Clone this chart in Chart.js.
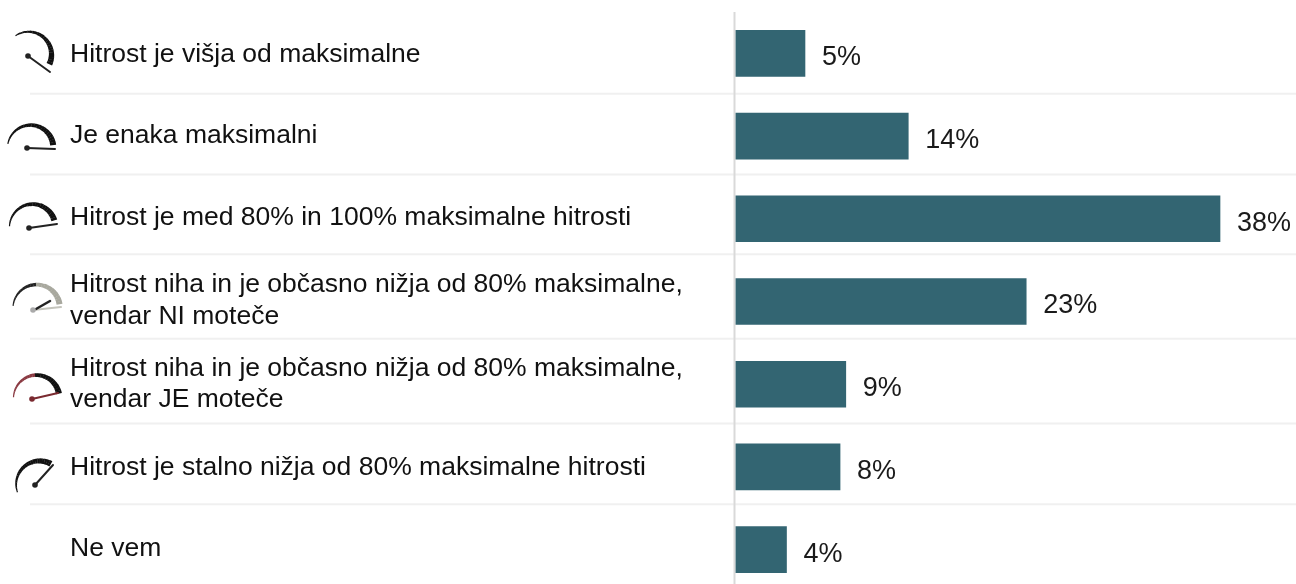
<!DOCTYPE html>
<html><head><meta charset="utf-8">
<style>html,body{margin:0;padding:0;background:#fff;overflow:hidden;width:1296px;height:584px}#w{position:relative;width:1296px;height:591px}</style>
<script src="https://cdn.jsdelivr.net/npm/chart.js@4/dist/chart.umd.min.js"></script>
</head><body><div id="w"><canvas id="c" width="1296" height="591"></canvas></div>
<script>
const categories = [
  "Hitrost je višja od maksimalne",
  "Je enaka maksimalni",
  "Hitrost je med 80% in 100% maksimalne hitrosti",
  ["Hitrost niha in je občasno nižja od 80% maksimalne,", "vendar NI moteče"],
  ["Hitrost niha in je občasno nižja od 80% maksimalne,", "vendar JE moteče"],
  "Hitrost je stalno nižja od 80% maksimalne hitrosti",
  "Ne vem"
];
const barValues = [5.45, 13.55, 38, 22.8, 8.65, 8.2, 4];
const valueLabels = ["5%", "14%", "38%", "23%", "9%", "8%", "4%"];

const labelNudge = [1, 0, -1, -1, 0, 1, -1];
const valueNudge = [4, 4, 5, 4, 4, 5, 5];
const sepNudge = [-1, -3, -6, -4, -2, -4];
const icons = [
  {cx:29,cy:55,r:23.5,a0:-125,a1:24,nx:50,ny:72,dx:28,dy:56,arc:'#111',ndl:'#222'},
  {cx:31,cy:148,r:23.5,a0:-170,a1:-8,nx:55,ny:149,dx:27,dy:148,arc:'#111',ndl:'#222'},
  {cx:33,cy:227,r:23.5,a0:-178,a1:-18,nx:57,ny:224,dx:29,dy:228,arc:'#111',ndl:'#222'},
  {cx:37,cy:308,r:24,a0:-175,a1:-10,nx:61,ny:307,dx:33,dy:310,arc:'#a8a89e',ndl:'#c4c4bc',edge:'#222',n2x:50,n2y:301},
  {cx:37,cy:398,r:23.5,a0:-178,a1:-12,nx:58,ny:393,dx:32,dy:399,arc:'#111',ndl:'#7a2a30',edge:'#8a3a42'},
  {cx:40,cy:484,r:24,a0:-200,a1:-62,nx:53,ny:465,dx:35,dy:485,arc:'#111',ndl:'#222'}
];

const decor = {
  id: 'decor',
  beforeDraw(chart) {
    const y = chart.scales.y;
    if (!chart.$nudged) {
      y.getLabelItems(chart.chartArea).forEach((it, i) => { it.options.translation[1] += labelNudge[i]; });
      chart.$nudged = true;
    }
  },
  beforeDatasetsDraw(chart) {
    const c = chart.ctx, y = chart.scales.y, x = chart.scales.x;
    c.save();
    c.strokeStyle = '#f0f0f0'; c.lineWidth = 2;
    for (let i = 0; i < categories.length - 1; i++) {
      const p = (y.getPixelForTick(i) + y.getPixelForTick(i + 1)) / 2 + sepNudge[i];
      c.beginPath(); c.moveTo(30, p); c.lineTo(1296, p); c.stroke();
    }
    c.strokeStyle = '#d9d9d9';
    const ax = x.getPixelForValue(0) - 1;
    c.beginPath(); c.moveTo(ax, 12); c.lineTo(ax, 591); c.stroke();
    c.restore();
  },
  afterDatasetsDraw(chart) {
    const c = chart.ctx, y = chart.scales.y, x = chart.scales.x;
    c.save();
    c.font = '27px "Liberation Sans", Arial, sans-serif';
    c.fillStyle = '#1a1a1a'; c.textBaseline = 'middle'; c.textAlign = 'left';
    barValues.forEach((v, i) => c.fillText(valueLabels[i], x.getPixelForValue(v) + 17, y.getPixelForTick(i) + valueNudge[i]));
    icons.forEach(g => {
      c.filter = 'blur(0.5px)';
      const s = g.a0 * Math.PI / 180, e = g.a1 * Math.PI / 180, n = 24;
      c.lineCap = 'butt';
      for (let k = 0; k < n; k++) {
        const t = k / n, a = s + (e - s) * t, b = s + (e - s) * (t + 1.1 / n);
        c.beginPath(); c.arc(g.cx, g.cy, g.r - 1.2 * t, a, b);
        c.lineWidth = 1.2 + 5 * t;
        c.strokeStyle = g.edge && t < 0.5 ? g.edge : g.arc;
        c.stroke();
      }
      c.lineWidth = 2; c.strokeStyle = g.ndl; c.lineCap = 'round';
      c.beginPath(); c.moveTo(g.dx, g.dy); c.lineTo(g.nx, g.ny); c.stroke();
      if (g.n2x) { c.strokeStyle = '#222'; c.lineWidth = 2.4; c.beginPath(); c.moveTo(g.dx + 3, g.dy - 1); c.lineTo(g.n2x, g.n2y); c.stroke(); }
      c.fillStyle = g.ndl === '#c4c4bc' ? '#aaa' : g.ndl;
      c.beginPath(); c.arc(g.dx, g.dy, 2.8, 0, 7); c.fill();
    });
    c.restore();
  }
};

new Chart(document.getElementById('c'), {
  type: 'bar',
  data: { labels: categories, datasets: [{ data: barValues, backgroundColor: '#336572', borderWidth: 0, barThickness: 46 }] },
  options: {
    indexAxis: 'y', responsive: false, animation: false,
    layout: { padding: { left: 70, top: 12, right: 0, bottom: 0 } },
    plugins: { legend: { display: false }, tooltip: { enabled: false } },
    scales: {
      x: { display: false, min: 0, max: 43.96 },
      y: {
        afterFit(s) { s.width = 665.5; s.paddingTop = 0; s.paddingBottom = 0; },
        grid: { display: false }, border: { display: false },
        ticks: { crossAlign: 'far', padding: 0, autoSkip: false, color: '#111', font: { family: '"Liberation Sans", Arial, sans-serif', size: 26.5, lineHeight: 1.2 } }
      }
    }
  },
  plugins: [decor]
});
</script></body></html>
